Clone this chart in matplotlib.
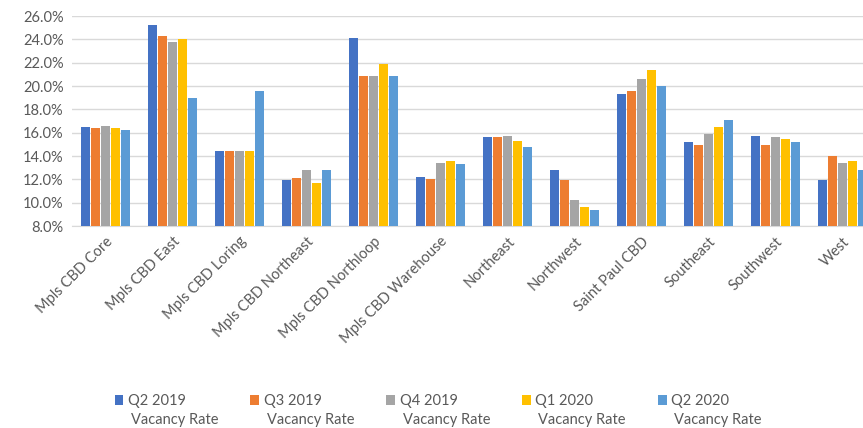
import numpy as np
import matplotlib
matplotlib.use("Agg")
import matplotlib.pyplot as plt
from matplotlib.ticker import FuncFormatter

submarkets = ["Mpls CBD Core", "Mpls CBD East", "Mpls CBD Loring", "Mpls CBD Northeast",
              "Mpls CBD Northloop", "Mpls CBD Warehouse", "Northeast", "Northwest",
              "Saint Paul CBD", "Southeast", "Southwest", "West"]

quarters = ["Q2 2019", "Q3 2019", "Q4 2019", "Q1 2020", "Q2 2020"]
metric = "Vacancy Rate"

q2_2019 = [16.5, 25.2, 14.4, 11.9, 24.1, 12.2, 15.6, 12.8, 19.3, 15.2, 15.7, 11.9]
q3_2019 = [16.4, 24.3, 14.4, 12.1, 20.9, 12.0, 15.6, 11.9, 19.6, 14.9, 14.9, 14.0]
q4_2019 = [16.6, 23.8, 14.4, 12.8, 20.9, 13.4, 15.7, 10.2, 20.6, 15.9, 15.6, 13.4]
q1_2020 = [16.4, 24.0, 14.4, 11.7, 21.9, 13.6, 15.3, 9.6, 21.4, 16.5, 15.5, 13.6]
q2_2020 = [16.2, 19.0, 19.6, 12.8, 20.9, 13.3, 14.8, 9.4, 20.0, 17.1, 15.2, 12.8]

colors = ["#4472C4", "#ED7D31", "#A5A5A5", "#FFC000", "#5B9BD5"]
series = [q2_2019, q3_2019, q4_2019, q1_2020, q2_2020]

plt.rcParams["font.family"] = ["Lato", "DejaVu Sans"]
text_color = "#595959"

fig = plt.figure(figsize=(8.63, 4.28), dpi=100)
ax = fig.add_axes([72 / 863, 1 - 226 / 428, 804 / 863, 210 / 428])

x = np.arange(len(submarkets))
slot = 0.15
bar_w = 0.125
for i, (vals, c, lab) in enumerate(zip(series, colors, quarters)):
    ax.bar(x + (i - 2) * slot, vals, width=bar_w, color=c, label=lab, zorder=3)

ax.set_ylim(8, 26)
ax.set_yticks(np.arange(8, 26.1, 2))
ax.yaxis.set_major_formatter(FuncFormatter(lambda v, p: f"{v:.1f}%"))
ax.set_xlim(-0.5, len(submarkets) - 0.5)
ax.set_xticks(x)
ax.set_xticklabels(submarkets, rotation=45, ha="right", rotation_mode="anchor")

ax.grid(axis="y", color="#D9D9D9", linewidth=1, zorder=0)
for s in ["top", "right", "left"]:
    ax.spines[s].set_visible(False)
ax.spines["bottom"].set_color("#D9D9D9")
ax.tick_params(axis="both", length=0, colors=text_color, labelsize=10.5)
ax.tick_params(axis="y", pad=6)
ax.tick_params(axis="x", pad=6)

# Legend: quarter on the first line next to the swatch, metric name on a second line
leg = fig.legend(loc="upper center", bbox_to_anchor=(0.489, 0.11), ncol=5, frameon=False,
                 fontsize=10.5, labelcolor=text_color, handlelength=0.6, handleheight=0.6,
                 handletextpad=0.3, columnspacing=4.45)
fig.canvas.draw()
renderer = fig.canvas.get_renderer()
inv = fig.transFigure.inverted()
for t in leg.get_texts():
    bb = t.get_window_extent(renderer)
    x0, y0 = inv.transform((bb.x0 + 3, bb.y0 - 5))
    fig.text(x0, y0, metric, ha="left", va="top", fontsize=10.5, color=text_color)

fig.savefig("out.png", dpi=100)
